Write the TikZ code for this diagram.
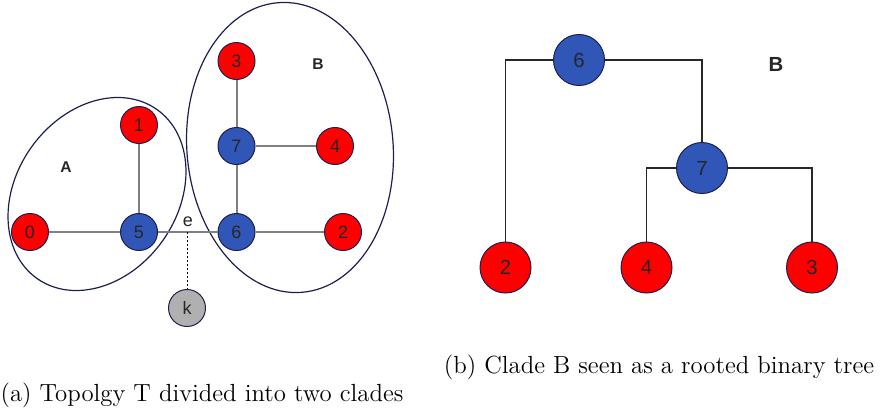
\documentclass[tikz,border=0pt]{standalone}
\usepackage{fontspec}
\newfontfamily\labfont{Liberation Sans}
\definecolor{leafred}{RGB}{255,0,0}
\definecolor{innerblue}{RGB}{48,87,184}
\definecolor{probegray}{RGB}{176,176,176}
\definecolor{rimnavy}{RGB}{28,30,80}
\definecolor{edgegray}{RGB}{128,128,128}
\definecolor{treeline}{RGB}{40,40,40}
\begin{document}
\begin{tikzpicture}[x=0.5pt,y=-0.5pt,
  vtx/.style={circle,draw=rimnavy,line width=0.5pt,inner sep=0pt,
    minimum size=18.5pt,font=\labfont\fontsize{9}{10}\selectfont,text=black!85},
  bigvtx/.style={vtx,minimum size=25.5pt,font=\labfont\fontsize{10.2}{11}\selectfont},
  leaf/.style={fill=leafred},
  inner/.style={fill=innerblue},
  probe/.style={fill=probegray},
  graphedge/.style={draw=edgegray,line width=1pt},
  treeedge/.style={draw=treeline,line width=0.75pt},
  clade/.style={draw=rimnavy,line width=0.6pt},
  cladename/.style={font=\labfont\bfseries\fontsize{7.8}{9}\selectfont,text=black!85},
  caption/.style={font=\fontsize{12.4}{14}\selectfont,anchor=base}]
\useasboundingbox (0,0) rectangle (881,409);

% ---- (a) topology T with its two clades ----
\draw[clade,rotate around={54.6:(97,194)}] (97,194) ellipse [x radius=103.6, y radius=80.6];
\draw[clade,rotate around={4.8:(290,147.5)}] (290,147.5) ellipse [x radius=103.1, y radius=145.3];

\node[vtx,leaf]  (a0) at (30,232) {0};
\node[vtx,inner] (a5) at (139,232) {5};
\node[vtx,leaf]  (a1) at (139,125) {1};
\node[vtx,inner] (a6) at (236.5,232) {6};
\node[vtx,leaf]  (a2) at (343,232) {2};
\node[vtx,inner] (a7) at (236.5,146) {7};
\node[vtx,leaf]  (a4) at (335,146) {4};
\node[vtx,leaf]  (a3) at (236.5,61) {3};
\node[vtx,probe] (ak) at (187,308) {k};

\draw[graphedge] (a0) -- (a5);
\draw[graphedge] (a5) -- (a1);
\draw[graphedge] (a5) -- (a6);
\draw[graphedge] (a6) -- (a7);
\draw[graphedge] (a7) -- (a3);
\draw[graphedge] (a7) -- (a4);
\draw[graphedge] (a6) -- (a2);

\coordinate (ae) at (187,232);
\node[font=\labfont\fontsize{9}{10}\selectfont,text=black!85] (elabel) at (188,222) {e};
\draw[line width=0.5pt,dash pattern=on 1pt off 1pt] (ae) -- (ak);

\node[cladename] (nameA) at (66,167) {A};
\node[cladename] (nameB) at (318,64) {B};

\node[caption] (capa) at (202,401) {(a) Topolgy T divided into two clades};

% ---- (b) clade B as a rooted binary tree ----
\node[bigvtx,inner] (b6) at (579,60) {6};
\node[bigvtx,inner] (b7) at (702,168) {7};
\node[bigvtx,leaf]  (b2) at (505.5,267.5) {2};
\node[bigvtx,leaf]  (b4) at (646.5,267.5) {4};
\node[bigvtx,leaf]  (b3) at (812,267.5) {3};

\draw[treeedge] (b6.west) -| (b2.north);
\draw[treeedge] (b6.east) -| (b7.north);
\draw[treeedge] (b7.west) -| (b4.north);
\draw[treeedge] (b7.east) -| (b3.north);

\node[cladename,font=\labfont\bfseries\fontsize{10.2}{11}\selectfont] (nameBtree) at (776,64) {B};

\node[caption] (capb) at (659,373) {(b) Clade B seen as a rooted binary tree};
\end{tikzpicture}
\end{document}
